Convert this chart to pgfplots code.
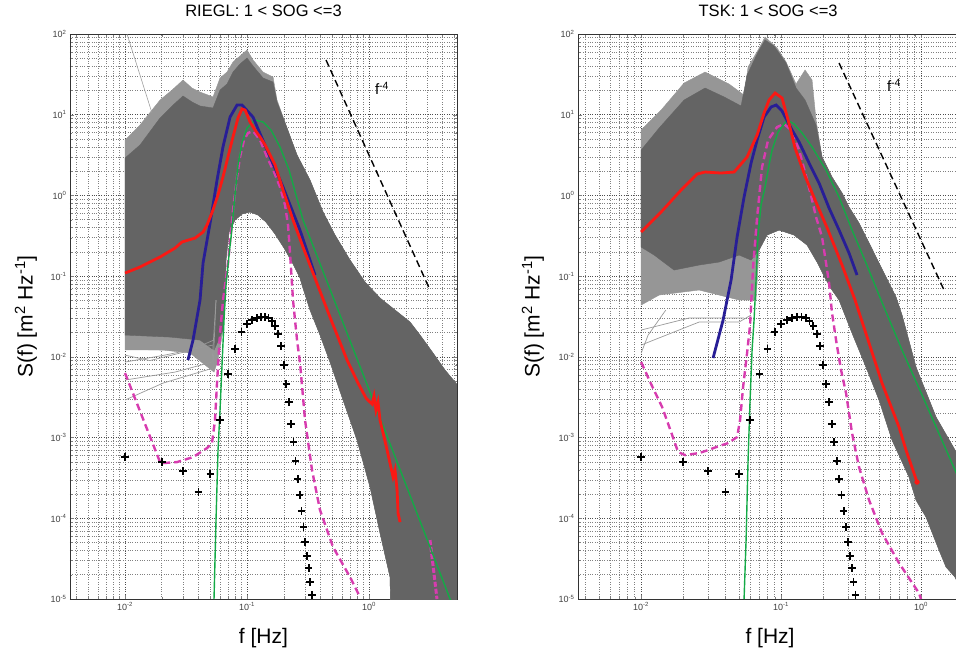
\documentclass[border=0pt]{standalone}
\usepackage{pgfplots}
\pgfplotsset{compat=1.18}
\usepackage{pgfplotstable}
\usepackage{fontspec}
\setmainfont{Liberation Sans}
\definecolor{cloud}{RGB}{100,100,100}
\definecolor{cloudlight}{RGB}{150,150,150}
\definecolor{mred}{RGB}{250,25,20}
\definecolor{mblue}{RGB}{40,30,150}
\definecolor{mgreen}{RGB}{20,170,70}
\definecolor{mmag}{RGB}{215,60,175}

\pgfplotstableread{
f S
0.01 5.73e-4
0.02 4.97e-4
0.03 3.85e-4
0.04 2.11e-4
0.05 3.53e-4
0.06 1.648e-3
0.07 6.12e-3
0.08 0.0125
0.09 0.0203
0.10 0.0255
0.11 0.0286
0.12 0.0303
0.13 0.0311
0.14 0.0311
0.15 0.0303
0.16 0.0278
0.17 0.0241
0.18 0.0192
0.19 0.0136
0.20 7.91e-3
0.21 4.60e-3
0.22 2.75e-3
0.23 1.47e-3
0.24 8.80e-4
0.25 5.12e-4
0.26 3.06e-4
0.27 1.94e-4
0.28 1.23e-4
0.29 7.78e-5
0.30 5.07e-5
0.31 3.40e-5
0.32 2.42e-5
0.33 1.62e-5
0.34 1.12e-5
}\crosses

\begin{document}
\begin{tikzpicture}
\path[use as bounding box] (0,0) rectangle (956pt,649pt);

% ---------------- LEFT PANEL ----------------
\begin{axis}[xmode=log, ymode=log, scale only axis, height=565pt, width=387pt,
    at={(70pt,50pt)}, anchor=south west,
    xmin=0.00354, xmax=5.26, ymin=1e-5, ymax=100,
    xtick={0.01,0.1,1},
    xticklabels={10\textsuperscript{-2},10\textsuperscript{-1},10\textsuperscript{0}},
    ytick={1e-5,1e-4,1e-3,1e-2,1e-1,1,10,100},
    yticklabels={10\textsuperscript{-5},10\textsuperscript{-4},10\textsuperscript{-3},10\textsuperscript{-2},10\textsuperscript{-1},10\textsuperscript{0},10\textsuperscript{1},10\textsuperscript{2}},
    minor xtick={0.004,0.005,0.006,0.007,0.008,0.009,0.02,0.03,0.04,0.05,0.06,0.07,0.08,0.09,0.2,0.3,0.4,0.5,0.6,0.7,0.8,0.9,2,3,4,5},
    minor ytick={2e-5,3e-5,4e-5,5e-5,6e-5,7e-5,8e-5,9e-5,2e-4,3e-4,4e-4,5e-4,6e-4,7e-4,8e-4,9e-4,2e-3,3e-3,4e-3,5e-3,6e-3,7e-3,8e-3,9e-3,0.02,0.03,0.04,0.05,0.06,0.07,0.08,0.09,0.2,0.3,0.4,0.5,0.6,0.7,0.8,0.9,2,3,4,5,6,7,8,9,20,30,40,50,60,70,80,90},
    grid=both,
    major grid style={black!70, dotted, line width=0.6pt},
    minor grid style={black!50, dotted, line width=0.5pt},
    axis line style={black!80, line width=0.6pt},
    major tick length=4pt, minor tick length=2.5pt,
    tick label style={font=\fontsize{9}{10}\selectfont, text=black!75},
    title={RIEGL: 1 {<} SOG {<}=3},
    title style={font=\fontsize{16.5}{19}\selectfont, anchor=center, at={(axis description cs:0.5,1.030)}},
    xlabel={f [Hz]},
    xlabel style={font=\fontsize{21}{24}\selectfont, anchor=center, at={(axis description cs:0.5,-0.069)}},
    ylabel={S(f) [m\textsuperscript{2} Hz\textsuperscript{-1}]},
    ylabel style={font=\fontsize{21}{24}\selectfont, anchor=center, at={(axis description cs:-0.114,0.5)}},
  ]
% sparse (light) envelope of the individual spectra
\addplot[fill=cloudlight, draw=cloudlight, line width=0.4pt] coordinates {
(0.01,4.86) (0.01327,7.45) (0.01936,15.2) (0.02428,20.2) (0.02988,26.9) (0.03542,21.4)
(0.04120,19.1) (0.05264,16.6) (0.06007,28.5) (0.06856,33.8) (0.07678,44.98) (0.08762,53.4)
(0.1,63.35) (0.1120,47.6) (0.1353,33.8) (0.1634,29.3) (0.1762,15.2) (0.2128,6.84)
(0.2569,3.17) (0.3284,1.551) (0.4198,0.6228) (0.5264,0.3230) (0.6989,0.1582) (0.9273,0.0845)
(1.231,0.0535) (1.633,0.0380) (2.168,0.0270) (2.618,0.01863) (3.347,0.01114) (4.198,0.00686)
(5.57,0.00410) (5.57,1e-6) (1.543,1e-6) (1.486,1.868e-5) (1.231,6.56e-5) (1.019,2.44e-4)
(0.7972,9.31e-4) (0.6123,0.00292) (0.4788,0.00862) (0.3966,0.01863) (0.3284,0.0380)
(0.2823,0.0776) (0.2719,0.0947) (0.2338,0.1495) (0.2011,0.2230) (0.1697,0.3324) (0.1431,0.4682)
(0.1231,0.5717) (0.1058,0.6228) (0.09099,0.5883) (0.07972,0.4955) (0.07119,0.3520)
(0.06727,0.1582) (0.06602,0.0506) (0.06358,0.0215) (0.05785,0.00913) (0.05363,0.00648)
(0.03410,0.01114) (0.02049,0.01214) (0.01,0.0122) (0.01,4.86)
};
% dense core
\addplot[fill=cloud, draw=cloud, line width=0.4pt] coordinates {
(0.01,2.906) (0.01327,4.212) (0.01936,9.10) (0.02428,12.82) (0.02988,17.05) (0.03542,14.37)
(0.04120,12.82) (0.05264,12.11) (0.06007,20.2) (0.06856,24.0) (0.07678,33.8) (0.08762,42.5)
(0.1,50.4) (0.1120,40.1) (0.1353,28.5) (0.1634,25.4) (0.1762,14.37) (0.2128,6.84)
(0.2569,3.17) (0.3284,1.551) (0.4198,0.6228) (0.5264,0.3230) (0.6989,0.1582) (0.9273,0.0845)
(1.231,0.0535) (1.633,0.0380) (2.168,0.0270) (2.618,0.01863) (3.347,0.01114) (4.198,0.00686)
(5.57,0.00410) (5.57,1e-6) (1.543,1e-6) (1.486,1.868e-5) (1.231,6.56e-5) (1.019,2.44e-4)
(0.7972,9.31e-4) (0.6123,0.00292) (0.4788,0.00862) (0.3966,0.01863) (0.3284,0.0380)
(0.2823,0.0776) (0.2719,0.0947) (0.2338,0.1495) (0.2011,0.2230) (0.1697,0.3324) (0.1431,0.4682)
(0.1231,0.5717) (0.1058,0.6228) (0.09099,0.5883) (0.07972,0.4955) (0.07119,0.3520)
(0.06727,0.1582) (0.06602,0.0506) (0.06358,0.0215) (0.05363,0.01214) (0.04120,0.01615)
(0.02338,0.01759) (0.01,0.01863) (0.01,2.906)
};
% a few individual low spectra
\addplot[gray!80, line width=0.7pt] coordinates {(0.01,0.00292) (0.02049,0.00473) (0.05264,0.00726) (0.0557,0.0506)};
\addplot[gray!80, line width=0.7pt] coordinates {(0.01,0.00516) (0.0257,0.00648) (0.05166,0.00862) (0.0557,0.0506)};
\addplot[gray!80, line width=0.7pt] coordinates {(0.01,0.00862) (0.02128,0.01053) (0.05264,0.0140)};
\addplot[gray!80, line width=0.7pt] coordinates {(0.01,0.0105) (0.0160,0.0090) (0.0330,0.0118) (0.05264,0.0160)};
\addplot[gray!75, line width=0.6pt] coordinates {(0.01038,100) (0.01664,10.5)};
% magenta dashed
\addplot[mmag, line width=2.4pt, dash pattern=on 7pt off 4pt] coordinates {
(0.01,6.30e-3) (0.01936,4.97e-4) (0.02048,4.83e-4) (0.02668,4.97e-4) (0.03609,5.73e-4)
(0.04699,7.41e-4) (0.05164,8.55e-4) (0.05466,1.648e-3) (0.05676,4.73e-3) (0.06007,0.01972)
(0.06358,0.05057) (0.06989,0.1453) (0.07678,0.6595) (0.08279,1.690) (0.08762,2.991)
(0.09450,4.859) (0.1019,5.933) (0.1120,6.281) (0.1278,4.859) (0.1458,2.991) (0.1664,1.950)
(0.1864,1.271) (0.2048,0.7603) (0.2168,0.4298) (0.2251,0.1933) (0.2382,0.05057)
(0.2570,0.01615) (0.2719,8.38e-3) (0.2988,1.648e-3) (0.3410,3.96e-4) (0.3966,1.264e-4)
(0.5070,4.40e-5) (0.6989,1.868e-5) (0.8437,1.056e-5)
};
\addplot[mmag, line width=3pt, dash pattern=on 5pt off 2pt] coordinates {(3.162,5.37e-5) (3.606,1e-5)};
% green
\addplot[mgreen, line width=1.4pt] coordinates {
(0.05363,1e-5) (0.05570,9.5e-5) (0.05785,7.0e-4) (0.06007,2.19e-3) (0.06238,7.9e-3)
(0.06478,0.02858) (0.06727,0.0776) (0.07119,0.1824) (0.07534,0.3945) (0.07972,1.012)
(0.08437,2.382) (0.09099,4.457) (0.1,6.84) (0.1163,8.59) (0.1353,8.12) (0.1573,6.46)
(0.1864,3.98) (0.2210,2.065) (0.2521,1.012) (0.2877,0.4955) (0.5785,0.03296)
(1.231,1.745e-3) (2.618,9.23e-5) (4.612,1e-5) (5.6,4.6e-6)
};
% blue
\addplot[mblue, line width=2.8pt] coordinates {
(0.0328,0.00912) (0.0361,0.01614) (0.0412,0.0506) (0.0436,0.1452) (0.0498,0.455)
(0.0568,1.552) (0.0635,3.981) (0.0726,9.35) (0.0828,13.18) (0.0910,13.18) (0.1119,9.35)
(0.1459,3.656) (0.1762,1.897) (0.1972,1.271) (0.2716,0.372) (0.3606,0.1033)
};
% red
\addplot[mred, line width=2.8pt] coordinates {
(0.01,0.1092) (0.01327,0.1297) (0.01936,0.1726) (0.0257,0.2228) (0.0293,0.2649)
(0.0375,0.2965) (0.0436,0.3516) (0.0470,0.4295) (0.0526,0.659) (0.0578,1.012)
(0.0635,1.690) (0.0698,2.992) (0.0767,5.297) (0.0843,9.10) (0.0910,11.78) (0.0964,11.43)
(0.1059,8.12) (0.1164,6.46) (0.1279,5.297) (0.1406,4.217) (0.1545,3.170) (0.1698,2.382)
(0.1972,1.167) (0.2382,0.4955) (0.2877,0.2296) (0.3475,0.1092) (0.4786,0.0311)
(0.6607,0.00912) (0.8128,0.00473) (0.9441,0.00309) (1.059,0.0026) (1.099,0.00327)
(1.141,0.00219) (1.185,0.00275) (1.230,0.00165) (1.406,7.0e-4) (1.574,3.24e-4)
(1.633,3.96e-4) (1.698,2.24e-4) (1.730,1.16e-4) (1.795,8.97e-5)
};
\addplot[only marks, mark=+, mark size=3.8pt, mark options={line width=1.7pt, black}] table[x=f, y=S] {\crosses};
\addplot[black, line width=1.4pt, dash pattern=on 7pt off 4pt] coordinates {(0.4442,47.6) (3.162,0.0673)};
\node[font=\fontsize{15}{17}\selectfont] at (axis cs:1.278,21.4) {f\textsuperscript{-4}};
\end{axis}

% ---------------- RIGHT PANEL ----------------
\begin{axis}[xmode=log, ymode=log, scale only axis, height=565pt, width=378pt,
    at={(578pt,50pt)}, anchor=south west,
    xmin=0.00354, xmax=1.778, ymin=1e-5, ymax=100,
    axis y line*=left, axis x line*=box,
    xtick={0.01,0.1,1},
    xticklabels={10\textsuperscript{-2},10\textsuperscript{-1},10\textsuperscript{0}},
    ytick={1e-5,1e-4,1e-3,1e-2,1e-1,1,10,100},
    yticklabels={10\textsuperscript{-5},10\textsuperscript{-4},10\textsuperscript{-3},10\textsuperscript{-2},10\textsuperscript{-1},10\textsuperscript{0},10\textsuperscript{1},10\textsuperscript{2}},
    minor xtick={0.004,0.005,0.006,0.007,0.008,0.009,0.02,0.03,0.04,0.05,0.06,0.07,0.08,0.09,0.2,0.3,0.4,0.5,0.6,0.7,0.8,0.9},
    minor ytick={2e-5,3e-5,4e-5,5e-5,6e-5,7e-5,8e-5,9e-5,2e-4,3e-4,4e-4,5e-4,6e-4,7e-4,8e-4,9e-4,2e-3,3e-3,4e-3,5e-3,6e-3,7e-3,8e-3,9e-3,0.02,0.03,0.04,0.05,0.06,0.07,0.08,0.09,0.2,0.3,0.4,0.5,0.6,0.7,0.8,0.9,2,3,4,5,6,7,8,9,20,30,40,50,60,70,80,90},
    grid=both,
    major grid style={black!70, dotted, line width=0.6pt},
    minor grid style={black!50, dotted, line width=0.5pt},
    axis line style={black!80, line width=0.6pt},
    major tick length=4pt, minor tick length=2.5pt,
    tick label style={font=\fontsize{9}{10}\selectfont, text=black!75},
    title={TSK: 1 {<} SOG {<}=3},
    title style={font=\fontsize{16.5}{19}\selectfont, anchor=center, at={(axis description cs:0.503,1.030)}},
    xlabel={f [Hz]},
    xlabel style={font=\fontsize{21}{24}\selectfont, anchor=center, at={(axis description cs:0.508,-0.069)}},
    ylabel={S(f) [m\textsuperscript{2} Hz\textsuperscript{-1}]},
    ylabel style={font=\fontsize{21}{24}\selectfont, anchor=center, at={(axis description cs:-0.119,0.5)}},
  ]
\addplot[fill=cloudlight, draw=cloudlight, line width=0.4pt] coordinates {
(0.01,6.46) (0.01389,11.4) (0.02028,24.7) (0.02865,33.8) (0.04251,24.0) (0.05440,17.5)
(0.05810,39.0) (0.06849,63.35) (0.07686,91.8) (0.09363,67.1) (0.1086,44.98) (0.1280,24.0)
(0.1484,35.8) (0.1665,26.9) (0.1778,8.60) (0.1963,2.99) (0.2313,1.690) (0.2727,1.071)
(0.3059,0.7181) (0.3606,0.4550) (0.4252,0.2572) (0.5012,0.1453) (0.5907,0.0821)
(0.6629,0.0551) (0.7317,0.0330) (0.9211,7.47e-3) (1.280,1.795e-3) (1.750,7.0e-4)
(4.251,2.28e-5) (4.251,6.3e-7) (1.750,1.868e-5) (1.509,2.49e-5) (1.345,4.04e-5)
(1.086,1.035e-4) (0.9211,1.68e-4) (0.8209,3.24e-4) (0.6207,9.31e-4) (0.5012,0.00292)
(0.4046,7.47e-3) (0.3214,0.01972) (0.2596,0.0506) (0.2313,0.0673) (0.2062,0.0947)
(0.1807,0.1495) (0.1534,0.2429) (0.1239,0.3230) (0.09677,0.3726) (0.07943,0.3230)
(0.06966,0.2106) (0.06627,0.0506) (0.05012,0.0506) (0.02596,0.0673) (0.01345,0.0583)
(0.01,0.0438) (0.01,6.46)
};
\addplot[fill=cloud, draw=cloud, line width=0.4pt] coordinates {
(0.01,3.65) (0.01345,6.84) (0.02028,15.2) (0.02865,21.4) (0.03916,16.6) (0.05179,12.82)
(0.05715,31.0) (0.06849,59.8) (0.07686,84.3) (0.08913,70.9) (0.1086,43.7) (0.1280,21.4)
(0.1484,15.2) (0.1778,7.45) (0.1963,2.99) (0.2313,1.690) (0.2727,1.071)
(0.3059,0.7181) (0.3606,0.4550) (0.4252,0.2572) (0.5012,0.1453) (0.5907,0.0821)
(0.6629,0.0551) (0.7317,0.0330) (0.9211,7.47e-3) (1.280,1.795e-3) (1.750,7.0e-4)
(4.251,2.28e-5) (4.251,6.3e-7) (1.750,1.868e-5) (1.509,2.49e-5) (1.345,4.04e-5)
(1.086,1.035e-4) (0.9211,1.68e-4) (0.8209,3.24e-4) (0.6207,9.31e-4) (0.5012,0.00292)
(0.4046,7.47e-3) (0.3214,0.01972) (0.2596,0.0506) (0.2313,0.0673) (0.2062,0.0947)
(0.1807,0.1495) (0.1534,0.2429) (0.1239,0.3230) (0.09677,0.3726) (0.07943,0.3230)
(0.06966,0.2106) (0.06105,0.1582) (0.05012,0.1826) (0.03606,0.1495) (0.02596,0.1373)
(0.01721,0.1190) (0.01239,0.1826) (0.01,0.2294) (0.01,3.65)
};
\addplot[gray!80, line width=0.7pt] coordinates {(0.01,0.0140) (0.02596,0.0270) (0.05012,0.0270) (0.06105,0.0330)};
\addplot[gray!80, line width=0.7pt] coordinates {(0.01,0.0215) (0.02202,0.0303) (0.05440,0.0303)};
\addplot[gray!80, line width=0.7pt] coordinates {(0.01,0.0111) (0.01122,0.0186) (0.0150,0.0380)};
% magenta dashed
\addplot[mmag, line width=2.4pt, dash pattern=on 7pt off 4pt] coordinates {
(0.01,8.62e-3) (0.01179,4.60e-3) (0.01413,2.387e-3) (0.01638,1.170e-3) (0.01838,6.61e-4)
(0.02062,6.07e-4) (0.02596,6.43e-4) (0.03010,7.0e-4) (0.03606,7.85e-4) (0.04182,8.55e-4)
(0.04849,1.015e-3) (0.05094,1.648e-3) (0.05353,4.22e-3) (0.05715,0.01114) (0.06005,0.02478)
(0.06310,0.1297) (0.06741,0.5400) (0.07316,2.248) (0.08074,4.859) (0.09363,7.04)
(0.1050,7.67) (0.1179,6.46) (0.1345,3.652) (0.1534,1.551) (0.1665,0.877) (0.1778,0.54)
(0.1963,0.3051) (0.2096,0.1453) (0.2202,0.0821) (0.2313,0.0349) (0.2471,0.01615)
(0.2683,6.86e-3) (0.2912,3.56e-3) (0.3214,1.137e-3) (0.3606,4.31e-4) (0.4252,1.68e-4)
(0.5265,6.56e-5) (0.6964,2.79e-5) (0.9676,1.18e-5) (1.0,1e-5)
};
% green
\addplot[mgreen, line width=1.4pt] coordinates {
(0.05440,1e-5) (0.05623,5.37e-5) (0.05810,5.26e-4) (0.06005,2.915e-3) (0.06206,0.01214)
(0.06413,0.02858) (0.06627,0.0895) (0.06849,0.3230) (0.07197,0.7603) (0.07686,1.271)
(0.08208,2.380) (0.08625,3.652) (0.09519,6.105) (0.1104,8.60) (0.1239,7.669) (0.1413,5.933)
(0.1665,3.980) (0.2096,2.064) (0.2596,0.9554) (0.3214,0.3726) (0.4046,0.1453)
(0.5179,0.05057) (0.7317,0.01214) (1.017,3.362e-3) (1.750,3.956e-4) (3.607,2.347e-5)
};
% blue
\addplot[mblue, line width=2.8pt] coordinates {
(0.03268,9.66e-3) (0.03853,0.02858) (0.04394,0.0895) (0.04849,0.3051) (0.05440,0.9554)
(0.06104,2.520) (0.06741,4.859) (0.07560,9.366) (0.08483,12.46) (0.09211,13.19)
(0.1016,11.11) (0.1198,6.46) (0.1345,4.588) (0.1585,2.520) (0.1868,1.425) (0.2202,0.6982)
(0.2596,0.3726) (0.3059,0.1933) (0.3490,0.1032)
};
% red
\addplot[mred, line width=2.8pt] coordinates {
(0.01,0.3520) (0.01389,0.6228) (0.01931,1.167) (0.02512,1.841) (0.02865,1.950)
(0.03728,1.895) (0.04616,1.950) (0.05715,2.991) (0.06741,5.603) (0.07560,10.50)
(0.08208,15.21) (0.09061,18.57) (0.1016,16.10) (0.1122,8.60) (0.1259,3.867) (0.1484,1.740)
(0.1749,0.8770) (0.2166,0.3726) (0.2727,0.1373) (0.3378,0.05057) (0.4252,0.01483)
(0.5265,4.73e-3) (0.6964,1.349e-3) (0.7814,7.0e-4) (0.9363,2.81e-4)
};
\addplot[mred, only marks, mark=*, mark size=2.4pt] coordinates {(0.9363,2.81e-4)};
\addplot[only marks, mark=+, mark size=3.8pt, mark options={line width=1.7pt, black}] table[x=f, y=S] {\crosses};
\addplot[black, line width=1.4pt, dash pattern=on 7pt off 4pt] coordinates {(0.2596,43.7) (1.460,0.0673)};
\node[font=\fontsize{15}{17}\selectfont] at (axis cs:0.6413,23.3) {f\textsuperscript{-4}};
\end{axis}
\end{tikzpicture}
\end{document}
